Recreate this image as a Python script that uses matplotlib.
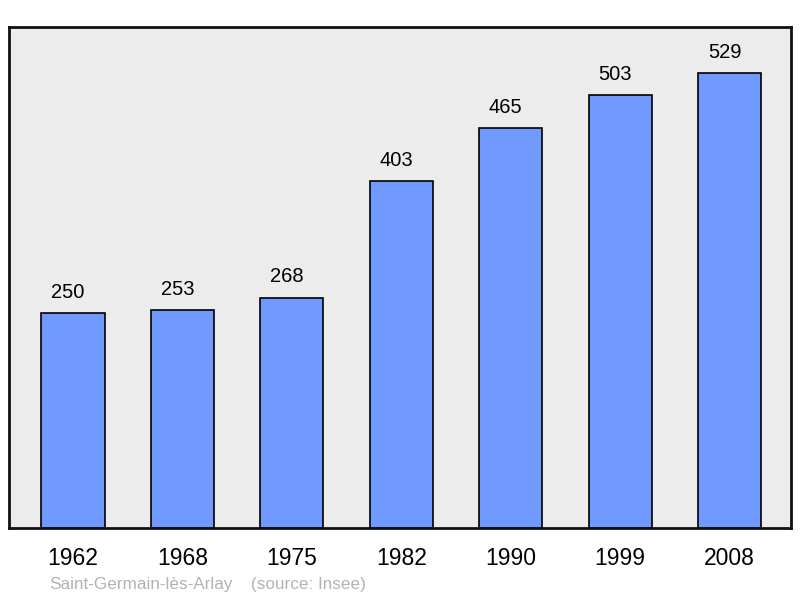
import matplotlib.pyplot as plt

years = ["1962", "1968", "1975", "1982", "1990", "1999", "2008"]
population = [250, 253, 268, 403, 465, 503, 529]
commune = "Saint-Germain-lès-Arlay"
source = "(source: Insee)"

plt.rcParams["font.family"] = ["Liberation Sans", "DejaVu Sans"]

fig = plt.figure(figsize=(8, 5.98), dpi=100)
# axes box in pixels: x 9..791, y 27..528 (from top)
ax = fig.add_axes([9 / 800, 1 - 528 / 598, 782 / 800, 501 / 598])
ax.set_facecolor("#ececec")

x = range(len(years))
bars = ax.bar(x, population, width=0.576, color="#7099ff",
              edgecolor="black", linewidth=1.2, zorder=2)

# value labels sit a bit left of the bar centre in the original
for rect, val in zip(bars, population):
    ax.annotate(str(val), (rect.get_x() + rect.get_width() / 2, rect.get_height()),
                xytext=(-3.6, 8), textcoords="offset points",
                ha="center", va="bottom", fontsize=14.5)

ax.set_xlim(-0.585, 6.562)
ax.set_ylim(0, 582.6)
ax.set_xticks(list(x))
ax.set_xticklabels(years, fontsize=16.5)
ax.tick_params(axis="x", length=0, pad=14)
ax.set_yticks([])
for sp in ax.spines.values():
    sp.set_linewidth(2)
    sp.set_color("#111111")

fig.text(49 / 800, 1 - 584 / 598, commune, fontsize=12.3, color="#b3b3b3",
         ha="left", va="center")
fig.text(251 / 800, 1 - 584 / 598, source, fontsize=12.3, color="#b3b3b3",
         ha="left", va="center")

fig.savefig("out.png", dpi=100)
